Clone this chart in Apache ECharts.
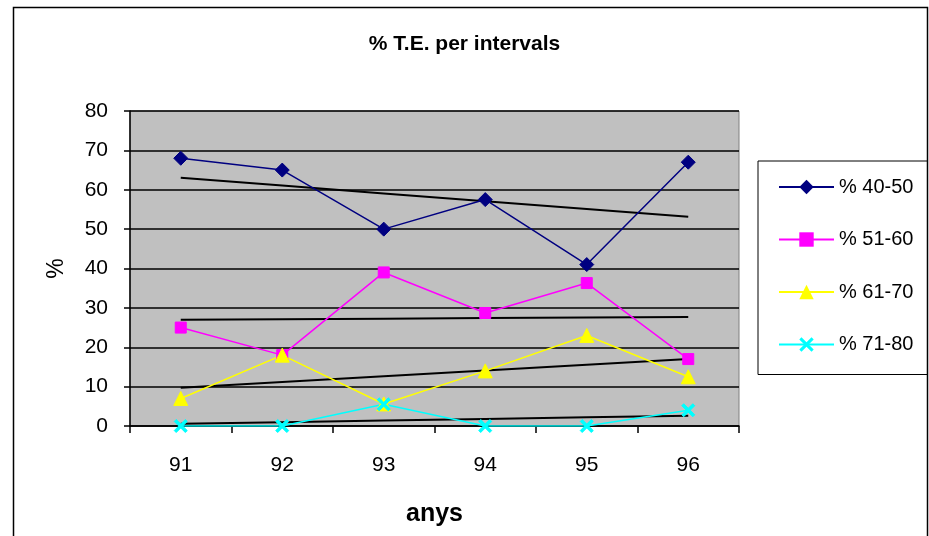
<!DOCTYPE html>
<html>
<head>
<meta charset="utf-8">
<script src="https://cdn.jsdelivr.net/npm/echarts@6/dist/echarts.min.js"></script>
<style>
  html, body { margin: 0; padding: 0; background: #fff; }
  #chart { width: 929px; height: 536px; }
</style>
</head>
<body>
<div id="chart"></div>
<script>
var years = ['91', '92', '93', '94', '95', '96'];
var names = ['% 40-50', '% 51-60', '% 61-70', '% 71-80'];
var s40 = [68, 65, 50, 57.5, 41, 67];
var s51 = [25, 18, 39, 28.7, 36.3, 17];
var s61 = [7, 18, 5.6, 14, 23, 12.5];
var s71 = [0, 0, 5.5, 0, 0, 4];
var colors = ['#000080', '#FF00FF', '#FFFF00', '#00FFFF'];
var yTicks = [0, 10, 20, 30, 40, 50, 60, 70, 80];

var font = 'Liberation Sans, Arial, sans-serif';
var crossPath = 'path://M0,1.5L1.5,0L5,3.5L8.5,0L10,1.5L6.5,5L10,8.5L8.5,10L5,6.5L1.5,10L0,8.5L3.5,5Z';

// linear trend, like Excel's trendline
function trend(vals) {
  var n = vals.length, mx = (n - 1) / 2, my = 0, sxy = 0, sxx = 0;
  vals.forEach(function (v) { my += v / n; });
  vals.forEach(function (v, i) { sxy += (i - mx) * (v - my); sxx += (i - mx) * (i - mx); });
  var b = sxy / sxx;
  return vals.map(function (v, i) { return my + b * (i - mx); });
}

function dataSeries(name, data, color, symbol, size) {
  return {
    name: name,
    type: 'line',
    data: data,
    symbol: symbol,
    symbolSize: size,
    lineStyle: { color: color, width: 1.5 },
    itemStyle: { color: color, borderColor: color },
    z: 3
  };
}

function trendSeries(data) {
  return {
    type: 'line',
    data: trend(data),
    showSymbol: false,
    symbol: 'none',
    lineStyle: { color: '#000', width: 2 },
    silent: true,
    z: 2
  };
}

var option = {
  animation: false,
  backgroundColor: '#fff',
  title: {
    text: '% T.E. per intervals',
    left: 'center',
    top: 29,
    textStyle: { fontFamily: font, fontSize: 21, fontWeight: 'bold', color: '#000' }
  },
  legend: {
    data: names,
    orient: 'vertical',
    left: 758,
    top: 161,
    padding: [16, 14, 20, 20],
    itemWidth: 55,
    itemHeight: 18,
    itemGap: 32.5,
    borderColor: '#000',
    borderWidth: 1,
    textStyle: { fontFamily: font, fontSize: 20, color: '#000' }
  },
  grid: {
    left: 130, right: 190, top: 111, bottom: 110,
    show: true,
    backgroundColor: '#C0C0C0',
    borderColor: '#808080',
    borderWidth: 1
  },
  xAxis: {
    type: 'category',
    data: years,
    name: 'anys',
    nameLocation: 'middle',
    nameGap: 76,
    nameTextStyle: { fontFamily: font, fontSize: 25, fontWeight: 'bold', color: '#000' },
    axisLine: { lineStyle: { color: '#000', width: 1.5 } },
    axisTick: { show: true, length: 7, lineStyle: { color: '#000', width: 1.5 } },
    axisLabel: { fontFamily: font, fontSize: 21, color: '#000', margin: 29 }
  },
  yAxis: {
    type: 'value',
    min: yTicks[0],
    max: yTicks[yTicks.length - 1],
    interval: 10,
    name: '%',
    nameLocation: 'middle',
    nameGap: 62,
    nameRotate: 90,
    nameTextStyle: { fontFamily: font, fontSize: 23, color: '#000' },
    axisLine: { show: true, lineStyle: { color: '#000', width: 1.5 } },
    axisTick: { show: true, length: 6, lineStyle: { color: '#000', width: 1.5 } },
    axisLabel: { fontFamily: font, fontSize: 21, color: '#000', margin: 22 },
    splitLine: { lineStyle: { color: '#000', width: 1.5 } }
  },
  graphic: [{
    type: 'rect',
    shape: { x: 13.5, y: 7.5, width: 914, height: 540 },
    style: { fill: 'none', stroke: '#000', lineWidth: 1.5 },
    silent: true,
    z: -1
  }],
  series: [
    dataSeries(names[0], s40, colors[0], 'diamond', 14),
    dataSeries(names[1], s51, colors[1], 'rect', 11),
    dataSeries(names[2], s61, colors[2], 'triangle', 14),
    dataSeries(names[3], s71, colors[3], crossPath, 13),
    trendSeries(s40),
    trendSeries(s51),
    trendSeries(s61),
    trendSeries(s71)
  ]
};

var myChart = echarts.init(document.getElementById('chart'));
myChart.setOption(option);
</script>
</body>
</html>
